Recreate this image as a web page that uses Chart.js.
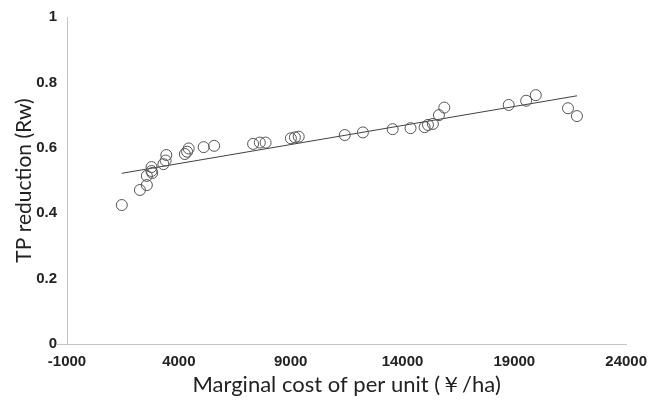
<!DOCTYPE html>
<html>
<head>
<meta charset="utf-8">
<script src="https://cdn.jsdelivr.net/npm/chart.js@4"></script>
<style>
  html, body { margin: 0; padding: 0; background: #ffffff; }
  #wrap { width: 656px; height: 408px; }
</style>
</head>
<body>
<div id="wrap"><canvas id="chart" width="656" height="408"></canvas></div>
<script>
// Marginal cost per unit (yuan/ha) for each scenario
const costX = [1450, 2260, 2570, 2570, 2780, 2780, 2810, 3310, 3410, 3440,
               4270, 4370, 4440, 5110, 5580, 7320, 7620, 7880, 9010, 9190,
               9360, 11420, 12230, 13560, 14360, 14990, 15140, 15360, 15630, 15870,
               18750, 19530, 19960, 21400, 21800];
// TP reduction (Rw) for each scenario
const reductionY = [0.425, 0.471, 0.486, 0.514, 0.541, 0.529, 0.523, 0.550, 0.561, 0.578,
                    0.581, 0.588, 0.598, 0.602, 0.606, 0.612, 0.616, 0.616, 0.629, 0.632,
                    0.634, 0.639, 0.647, 0.657, 0.660, 0.663, 0.670, 0.673, 0.700, 0.723,
                    0.731, 0.744, 0.761, 0.721, 0.697];
// Linear trend line end points
const trendX = [1450, 21800];
const trendY = [0.522, 0.759];

const scatterPoints = costX.map((x, i) => ({ x: x, y: reductionY[i] }));
const trendPoints = trendX.map((x, i) => ({ x: x, y: trendY[i] }));

const tickFont = { family: 'Liberation Sans, Arial, sans-serif', size: 15, weight: 'bold' };
const xTitleFont = { family: 'Lato, sans-serif', size: 22 };
const yTitleFont = { family: 'Lato, sans-serif', size: 21 };

new Chart(document.getElementById('chart'), {
  type: 'scatter',
  data: {
    datasets: [
      {
        label: 'Rw',
        data: scatterPoints,
        pointStyle: 'circle',
        pointRadius: 5.5,
        pointHoverRadius: 5.5,
        borderColor: '#555555',
        backgroundColor: 'rgba(0,0,0,0)',
        borderWidth: 1
      },
      {
        label: 'Linear',
        type: 'line',
        data: trendPoints,
        borderColor: '#404040',
        borderWidth: 1,
        pointRadius: 0,
        fill: false
      }
    ]
  },
  options: {
    responsive: false,
    animation: false,
    layout: { padding: { top: 17, right: 24, left: 0, bottom: 0 } },
    plugins: {
      legend: { display: false },
      tooltip: { enabled: false }
    },
    scales: {
      x: {
        type: 'linear',
        min: -1000,
        max: 24000,
        afterFit: (scale) => { scale.height = 64; },
        ticks: {
          stepSize: 5000,
          color: '#222222',
          font: tickFont,
          padding: 9,
          maxRotation: 0,
          callback: (v) => String(v)
        },
        grid: { display: false, drawTicks: false },
        border: { display: true, color: '#c4c4c4', width: 1 },
        title: {
          display: true,
          text: 'Marginal cost of per unit (￥/ha)',
          color: '#222222',
          font: xTitleFont,
          padding: { top: 4, bottom: 10 }
        }
      },
      y: {
        type: 'linear',
        min: 0,
        max: 1,
        afterFit: (scale) => { scale.width = 67; },
        ticks: {
          stepSize: 0.2,
          color: '#222222',
          font: tickFont,
          padding: 0,
          callback: (v) => String(Math.round(v * 10) / 10)
        },
        grid: {
          drawOnChartArea: false,
          drawTicks: true,
          tickLength: 10,
          color: (ctx) => (ctx.tick && ctx.tick.value === 0 ? '#c4c4c4' : 'rgba(0,0,0,0)')
        },
        border: { display: true, color: '#c4c4c4', width: 1 },
        title: {
          display: true,
          text: 'TP reduction (Rw)',
          color: '#222222',
          font: yTitleFont,
          padding: { top: 12, bottom: 2 }
        }
      }
    }
  }
});
</script>
</body>
</html>
